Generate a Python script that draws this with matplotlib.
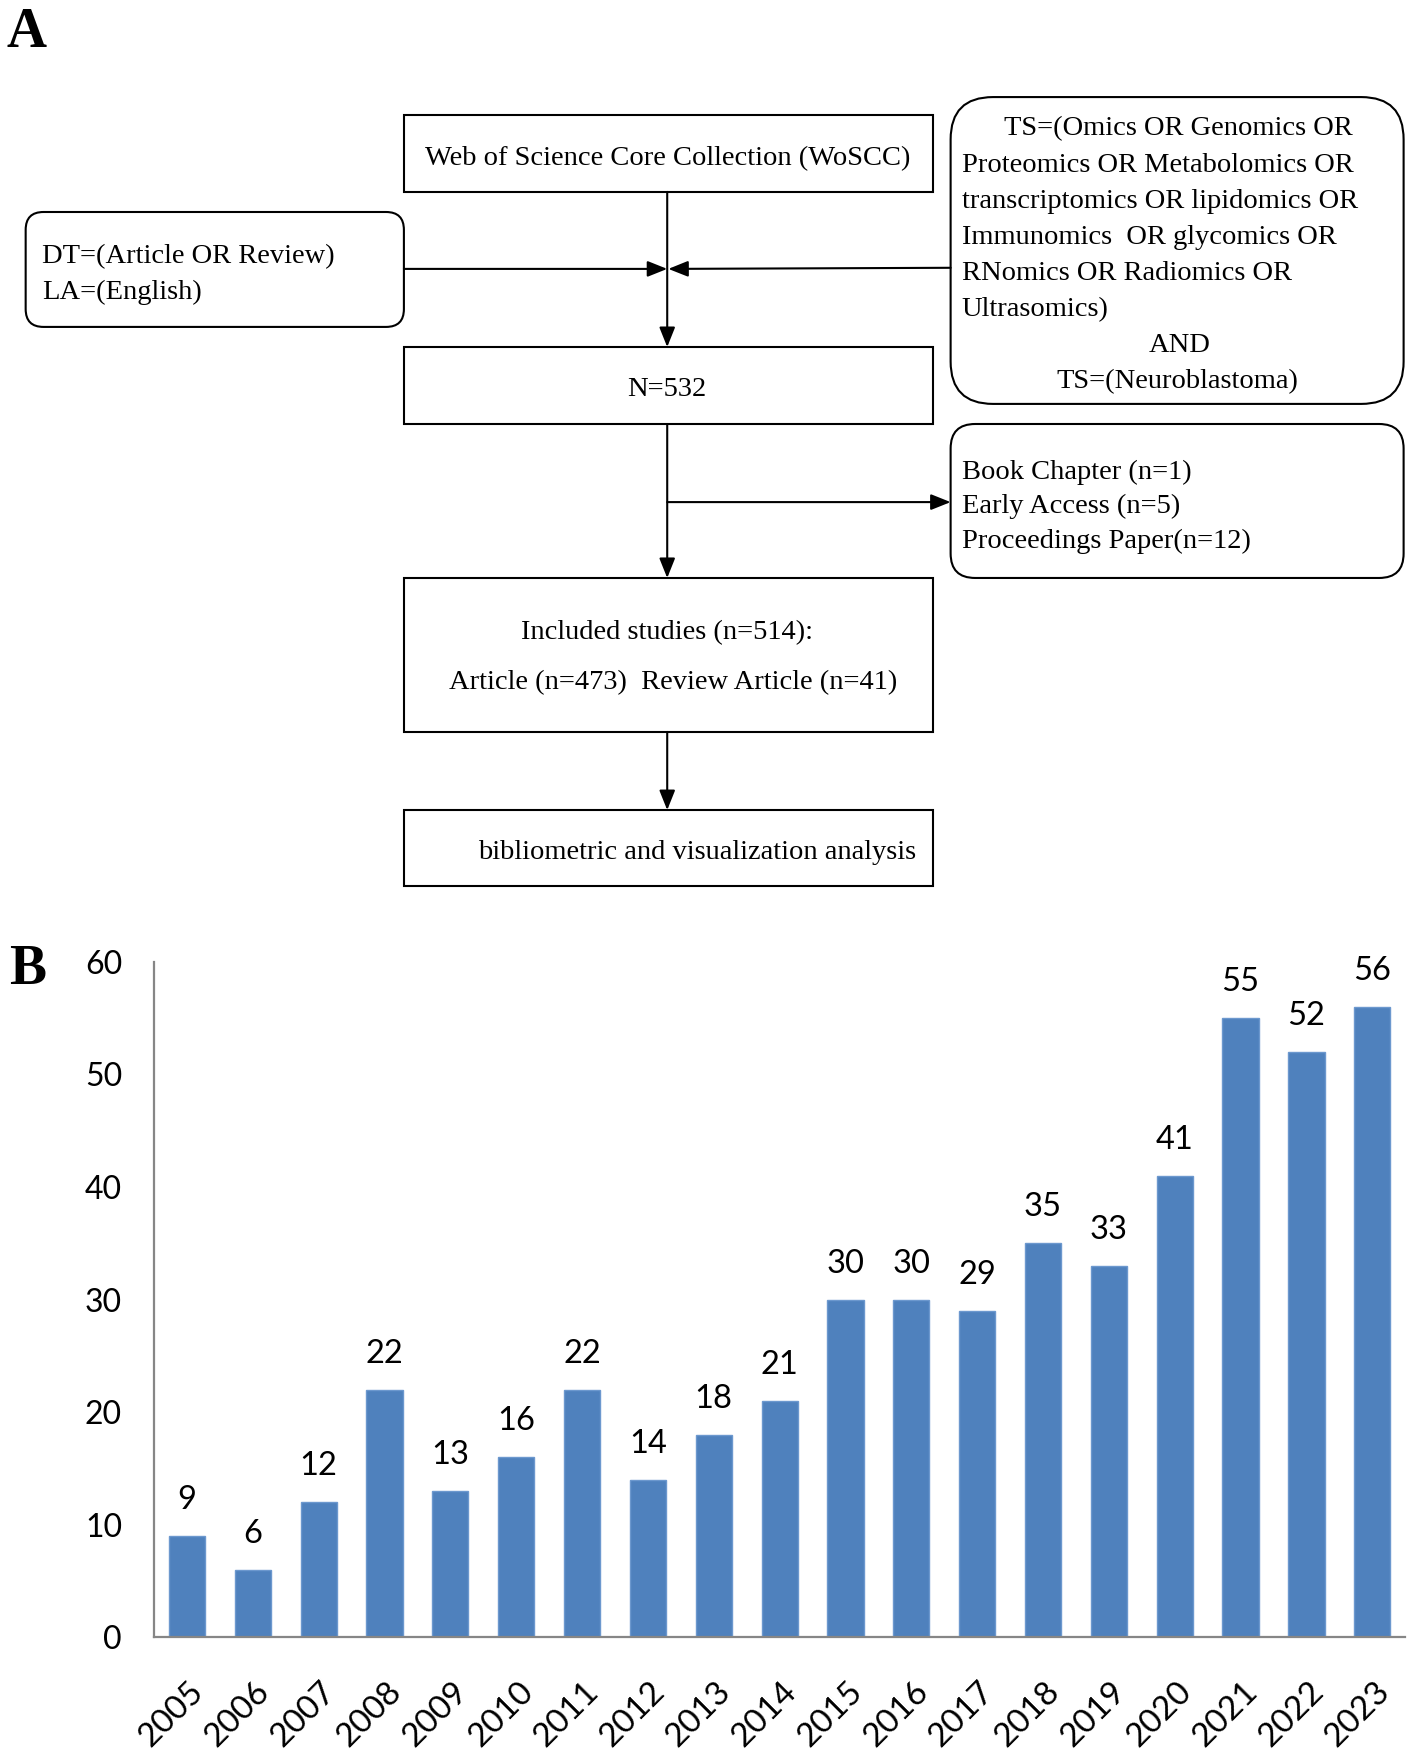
import matplotlib
matplotlib.use("Agg")
import matplotlib.pyplot as plt
from matplotlib.patches import Rectangle, FancyBboxPatch
from matplotlib.transforms import ScaledTranslation

# panel B data
years = ["2005", "2006", "2007", "2008", "2009", "2010", "2011", "2012", "2013", "2014",
         "2015", "2016", "2017", "2018", "2019", "2020", "2021", "2022", "2023"]
counts = [9, 6, 12, 22, 13, 16, 22, 14, 18, 21, 30, 30, 29, 35, 33, 41, 55, 52, 56]
yticks = [0, 10, 20, 30, 40, 50, 60]

# panel A texts
left_lines = ["DT=(Article OR Review)", "LA=(English)"]
query_lines = ["Proteomics OR Metabolomics OR", "transcriptomics OR lipidomics OR",
               "Immunomics  OR glycomics OR", "RNomics OR Radiomics OR", "Ultrasomics)"]
excluded_lines = ["Book Chapter (n=1)", "Early Access (n=5)", "Proceedings Paper(n=12)"]

SERIF = "Liberation Serif"
SANS = "Lato"
FS = 20.5

fig = plt.figure(figsize=(14.17, 17.54), dpi=100)

# ---- panel A: flow chart drawn on a page-sized axes ----
ax0 = fig.add_axes([0, 0, 1, 1])
ax0.set_xlim(0, 1270)
ax0.set_ylim(1572, 0)
ax0.axis("off")


def box(x0, y0, x1, y1, r=0):
    if r:
        p = FancyBboxPatch((x0, y0), x1 - x0, y1 - y0,
                           boxstyle=f"round,pad=0,rounding_size={r}",
                           fc="white", ec="black", lw=1.5)
    else:
        p = Rectangle((x0, y0), x1 - x0, y1 - y0, fc="white", ec="black", lw=1.5)
    ax0.add_patch(p)


def arrow(x0, y0, x1, y1):
    ax0.annotate("", xy=(x1, y1), xytext=(x0, y0),
                 arrowprops=dict(arrowstyle="-|>,head_length=0.75,head_width=0.3",
                                 color="black", lw=1.5,
                                 mutation_scale=16, shrinkA=0, shrinkB=0))


def txt(x, y, s, ha="center", **kw):
    ax0.text(x, y + 3, s, ha=ha, va="center", family=SERIF, fontsize=FS, **kw)


ax0.text(6, 6, "A", ha="left", va="top", family=SERIF, fontsize=40, fontweight="bold")
ax0.text(8, 846, "B", ha="left", va="top", family=SERIF, fontsize=40, fontweight="bold")

box(362, 103, 836, 172)
txt(598, 139, "Web of Science Core Collection (WoSCC)")

box(23, 190, 362, 293, r=16)
for i, s in enumerate(left_lines):
    txt(38, 227 + 32 * i, s, ha="left")

box(852, 87, 1258, 362, r=38)
txt(1056, 112, "TS=(Omics OR Genomics OR")
for i, s in enumerate(query_lines):
    txt(862, 145 + 32.4 * i, s, ha="left")
txt(1057, 307, "AND")
txt(1055, 339, "TS=(Neuroblastoma)")

box(362, 311, 836, 380)
txt(598, 346, "N=532")

box(852, 380, 1258, 518, r=22)
for i, s in enumerate(excluded_lines):
    txt(862, 420 + 31 * i, s, ha="left")

box(362, 518, 836, 656)
txt(598, 564, "Included studies (n=514):")
txt(603, 609, "Article (n=473)  Review Article (n=41)")

box(362, 726, 836, 794)
txt(625, 761, "bibliometric and visualization analysis")

arrow(598, 172, 598, 311)
arrow(362, 241, 598, 241)
arrow(852, 240, 599, 241)
arrow(598, 380, 598, 518)
arrow(598, 450, 852, 450)
arrow(598, 656, 598, 726)

# ---- panel B: bar chart ----
ax = fig.add_axes([0.1087, 0.0665, 0.883, 0.3852])
x = list(range(len(years)))
bars = ax.bar(x, counts, width=0.55, color="#4F81BD", edgecolor="#6C98CE", linewidth=1)
ax.bar_label(bars, labels=[str(c) for c in counts], padding=15,
             family=SANS, fontsize=23.5, color="black")

ax.set_xlim(-0.5, len(years) - 0.5)
ax.set_ylim(0, 60)
ax.set_yticks(yticks)
ax.set_yticklabels([str(t) for t in yticks], family=SANS, fontsize=23)
ax.set_xticks(x)
ax.set_xticklabels(years, family=SANS, fontsize=24, rotation=45,
                   ha="right", va="top", rotation_mode="anchor")
ax.tick_params(axis="y", length=0, pad=23)
ax.tick_params(axis="x", length=0, pad=28)
shift = ScaledTranslation(0.015, 0, fig.dpi_scale_trans)
for lab in ax.get_xticklabels():
    lab.set_transform(lab.get_transform() + shift)

for s in ["top", "right"]:
    ax.spines[s].set_visible(False)
for s in ["left", "bottom"]:
    ax.spines[s].set_color("#868686")
    ax.spines[s].set_linewidth(1.6)
ax.set_facecolor("none")

fig.savefig("out.png", dpi=100)
